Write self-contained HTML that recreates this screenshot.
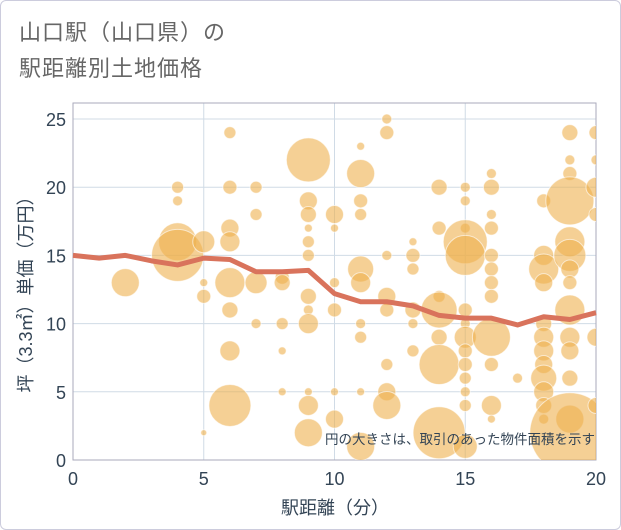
<!DOCTYPE html>
<html><head><meta charset="utf-8"><style>
body{margin:0;background:#fff;}
#card{position:absolute;left:0;top:0;width:619px;height:528px;border:1px solid #ccd;border-radius:6px;background:#fff;font-family:"Liberation Sans","Noto Sans CJK JP",sans-serif;}
.t{position:absolute;left:18px;font-size:22px;color:#666;letter-spacing:1px;}
</style></head><body>
<div id="card">
<div class="t" style="top:14px">山口駅（山口県）の</div>
<div class="t" style="top:50px">駅距離別土地価格</div>
<svg id="chart" width="621" height="530" style="position:absolute;left:-1px;top:-1px"></svg>
</div>
<script>
const lineX=[0,1,2,3,4,5,6,7,8,9,10,11,12,13,14,15,16,17,18,19,20];
const lineY=[15.0,14.8,15.0,14.6,14.3,14.8,14.7,13.8,13.8,13.9,12.2,11.6,11.6,11.3,10.6,10.4,10.4,9.9,10.5,10.3,10.8];
const bubbleX=[
2,
4,4,4,4,
5,5,5,5,
6,6,6,6,6,6,6,6,
7,7,7,7,
8,8,8,8,8,
9,9,9,9,9,9,9,9,9,9,9,9,
10,10,10,10,10,10,
11,11,11,11,11,11,11,11,11,11,
12,12,12,12,12,12,12,12,
13,13,13,13,13,13,
14,14,14,14,14,14,14,
15,15,15,15,15,15,15,15,15,15,15,15,15,15,
16,16,16,16,16,16,16,16,16,16,16,16,
17,
18,18,18,18,18,18,18,18,18,18,18,18,
19,19,19,19,19,19,19,19,19,19,19,19,19,19,
20,20,20,20,20,20];
const bubbleY=[
13,
20,19,16,15,
16,13,12,2,
24,20,17,16,13,11,8,4,
20,18,13,10,
13.4,13,10,8,5,
22,19,18,17,16,15,12,11,10,5,4,2,
18,17,13,11,5,3,
23,21,19,18,14,13,10,9,5,1,
25,24,15,12,11,7,5,4,
16,15,14,11,10,8,
20,17,12,11,9,7,2,
20,19,17,16,15,11,10,9,8,7,6,5,4,1,
21,20,18,17,15,14,13,12,9,7,4,3,
6,
19,15,14,13,10,9,8,7,6,5,4,3,
24,22,21,19,16,15,14,13,11,9,8,6,3,2,
24,22,20,18,9,4];
const bubbleR=[
14,
6,5,19,26,
11,4,7,3,
6,7,9,10,15,8,10,21,
6,6,11,5,
7,8,6,4,4,
22,9,8,4,6,6,8,5,10,4,10,14,
9,4,5,7,4,9,
4,14,7,6,13,10,5,6,4,14,
5,7,5,9,7,6,9,14,
4,7,6,8,5,6,
8,7,6,18,8,20,26,
5,5,5,22,20,7,5,11,7,7,6,5,6,12,
5,8,5,7,7,7,7,7,19,7,10,4,
5,
7,10,15,9,8,10,10,9,13,10,8,5,
8,5,7,24,15,16,9,7,15,10,9,8,14,40,
7,5,10,7,9,8];
const xTicks=[0,5,10,15,20];
const yTicks=[0,5,10,15,20,25];
const L=73,R=596,T=103,B=460;
const sx=v=>L+v*(R-L)/20;
const sy=v=>B-v*(B-119)/25;
const svg=document.getElementById('chart');
const NS='http://www.w3.org/2000/svg';
function mk(t,a){const e=document.createElementNS(NS,t);for(const k in a)e.setAttribute(k,a[k]);svg.appendChild(e);return e;}
const defs=mk('clipPath',{id:'clip'});
const cr=document.createElementNS(NS,'rect');cr.setAttribute('x',L);cr.setAttribute('y',T);cr.setAttribute('width',R-L);cr.setAttribute('height',B-T);defs.appendChild(cr);
xTicks.forEach(v=>{
 const g=mk('line',{x1:sx(v),x2:sx(v),y1:T,y2:B,stroke:'#d0dbe6','stroke-width':1});
 
 
 const t=mk('text',{x:sx(v),y:485,'text-anchor':'middle','font-size':18,fill:'#345'});t.textContent=v;
 
 
});
yTicks.forEach(v=>{
 const g=mk('line',{x1:L,x2:R,y1:sy(v),y2:sy(v),stroke:'#d0dbe6','stroke-width':1});
 
 
 const t=mk('text',{x:66,y:sy(v)+7,'text-anchor':'end','font-size':18,fill:'#345'});t.textContent=v;
 
 
});
const fr=mk('rect',{x:L,y:T,width:R-L,height:B-T,fill:'none',stroke:'#aab','stroke-width':1});


const bg=mk('g',{'clip-path':'url(#clip)'});
bubbleX.forEach((x,i)=>{
 const c=document.createElementNS(NS,'circle');
 c.setAttribute('cx',sx(x));c.setAttribute('cy',sy(bubbleY[i]));c.setAttribute('r',bubbleR[i]);
 c.setAttribute('fill','#eeb14f');c.setAttribute('fill-opacity','0.6');c.setAttribute('stroke','#fff');c.setAttribute('stroke-opacity','0.6');
 
 
 bg.appendChild(c);
});
const pl=mk('polyline',{points:lineX.map((x,i)=>sx(x)+','+sy(lineY[i])).join(' '),fill:'none',stroke:'#d9735c','stroke-width':5,'stroke-linejoin':'round'});


const note=mk('text',{x:595,y:444,'text-anchor':'end','font-size':13.5,fill:'#345'});note.textContent='円の大きさは、取引のあった物件面積を示す';


const xt=mk('text',{x:335,y:514,'text-anchor':'middle','font-size':18,fill:'#345'});xt.textContent='駅距離（分）';


const yt=mk('text',{x:0,y:0,'text-anchor':'middle','font-size':18,fill:'#345',transform:'translate(32,290) rotate(-90)'});yt.textContent='坪（3.3㎡）単価（万円）';


</script>
</body></html>
